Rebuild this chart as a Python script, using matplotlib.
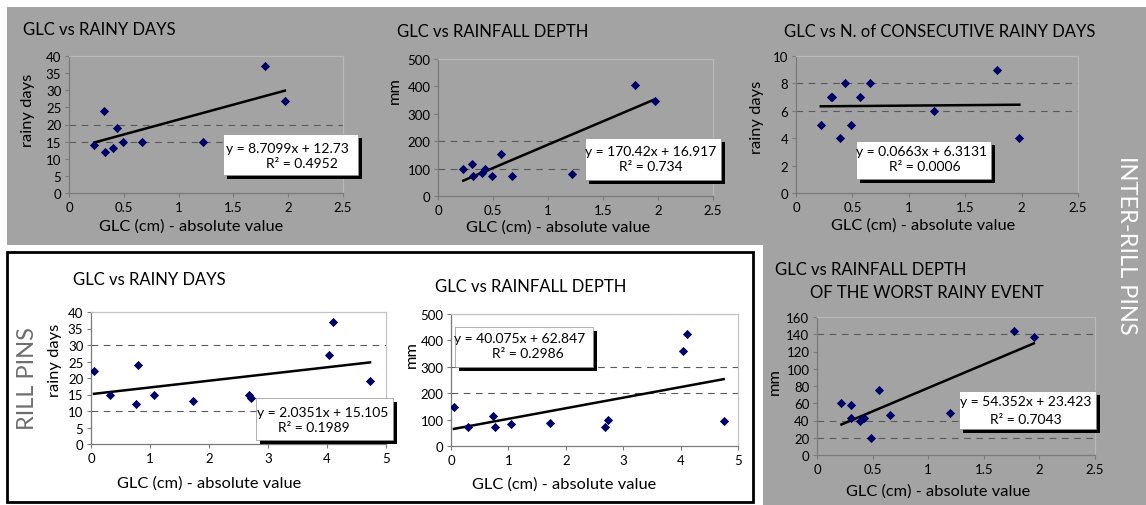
import matplotlib
matplotlib.use('Agg')
import matplotlib.pyplot as plt
from matplotlib.patches import Rectangle, Polygon
import numpy as np

plt.rcParams['font.family'] = ['Lato', 'DejaVu Sans']

# -------------------------
# Data
# -------------------------
# inter-rill pins
ir_days_x = [0.23, 0.32, 0.33, 0.40, 0.44, 0.49, 0.67, 1.22, 1.79, 1.97]
ir_days_y = [14, 24, 12, 13, 19, 15, 15, 15, 37, 27]

ir_depth_x = [0.23, 0.31, 0.32, 0.40, 0.43, 0.49, 0.57, 0.67, 1.22, 1.79, 1.97]
ir_depth_y = [97, 115, 73, 85, 97, 73, 152, 73, 80, 406, 345]

ir_consec_x = [0.22, 0.31, 0.32, 0.39, 0.43, 0.49, 0.57, 0.66, 1.22, 1.78, 1.98]
ir_consec_y = [5, 7, 7, 4, 8, 5, 7, 8, 6, 9, 4]

ir_worst_x = [0.22, 0.305, 0.31, 0.39, 0.425, 0.485, 0.56, 0.66, 1.20, 1.77, 1.95]
ir_worst_y = [60, 58, 43, 40, 43, 20, 75, 46, 49, 144, 137]

# rill pins
r_days_x = [0.05, 0.32, 0.80, 0.76, 1.07, 1.73, 2.68, 2.72, 4.04, 4.10, 4.73]
r_days_y = [22, 15, 24, 12, 15, 13, 15, 14, 27, 37, 19]

r_depth_x = [0.05, 0.30, 0.74, 0.76, 1.05, 1.73, 2.69, 2.73, 4.05, 4.11, 4.75]
r_depth_y = [149, 72, 114, 72, 85, 89, 72, 99, 361, 424, 95]

# trendlines (slope, intercept, R2) as printed on the chart
fit_ir_days = (8.7099, 12.73, '0.4952')
fit_ir_depth = (170.42, 16.917, '0.734')
fit_ir_consec = (0.0663, 6.3131, '0.0006')
fit_ir_worst = (54.352, 23.423, '0.7043')
fit_r_days = (2.0351, 15.105, '0.1989')
fit_r_depth = (40.075, 62.847, '0.2986')

eq_ir_days = 'y = 8.7099x + 12.73'
eq_ir_depth = 'y = 170.42x + 16.917'
eq_ir_consec = 'y = 0.0663x + 6.3131'
eq_ir_worst = 'y = 54.352x + 23.423'
eq_r_days = 'y = 2.0351x + 15.105'
eq_r_depth = 'y = 40.075x + 62.847'

xlab = 'GLC (cm) - absolute value'

# -------------------------
# Figure in pixel units
# -------------------------
W, H = 1146, 506
fig = plt.figure(figsize=(W / 100, H / 100), dpi=100, facecolor='white')
GRAY = '#a3a3a3'
TFS = 12     # titles
LFS = 11.8   # axis labels


def fx(x):
    return x / W


def fy(y):
    return 1 - y / H


def px_axes(x0, y0, x1, y1, bg):
    ax = fig.add_axes([fx(x0), fy(y1), (x1 - x0) / W, (y1 - y0) / H])
    ax.set_facecolor(bg)
    return ax


def ftext(x, y, s, **kw):
    fig.text(fx(x), fy(y), s, **kw)


# background shapes
bg = Polygon([(fx(7), fy(8)), (fx(W), fy(8)), (fx(W), fy(H)), (fx(763), fy(H)),
              (fx(763), fy(246)), (fx(7), fy(246))],
             closed=True, transform=fig.transFigure, facecolor=GRAY,
             edgecolor='none', zorder=-2)
fig.patches.append(bg)
box = Rectangle((fx(7), fy(503)), (753 - 7) / W, (503 - 253) / H,
                transform=fig.transFigure, facecolor='white',
                edgecolor='black', linewidth=2, zorder=-1)
fig.patches.append(box)


def scatter_panel(ax, xs, ys, fit, xmax, ymax, ystep, hlines, dark_bg):
    ax.scatter(xs, ys, marker='D', s=22, color='#000066', zorder=3,
               linewidths=0)
    a, b, _ = fit
    xl = np.array([min(xs), max(xs)])
    ax.plot(xl, a * xl + b, color='black', lw=1.8, zorder=2)
    for h in hlines:
        ax.axhline(h, color='#5a5a5a', lw=0.8, dashes=(6, 5), zorder=1)
    ax.set_xlim(0, xmax)
    ax.set_ylim(0, ymax)
    ax.set_yticks(np.arange(0, ymax + ystep / 2, ystep))
    if xmax == 5:
        ax.set_xticks([0, 1, 2, 3, 4, 5])
    else:
        ax.set_xticks([0, 0.5, 1, 1.5, 2, 2.5])
        ax.set_xticklabels(['0', '0.5', '1', '1.5', '2', '2.5'])
    ax.tick_params(direction='out', length=3, width=0.8, color='#7a7a7a',
                   labelsize=9.5, pad=2.5)
    for s in ['left', 'bottom']:
        ax.spines[s].set_color('#7a7a7a')
        ax.spines[s].set_linewidth(0.9)
    for s in ['top', 'right']:
        ax.spines[s].set_color('#b8b8b8' if dark_bg else '#c4c4c4')
        ax.spines[s].set_linewidth(0.9)


def eq_box(x0, y0, x1, y1, lines):
    sh = Rectangle((fx(x0 + 4), fy(y1 + 4)), (x1 - x0) / W, (y1 - y0) / H,
                   transform=fig.transFigure, facecolor='black',
                   edgecolor='none', zorder=4)
    wb = Rectangle((fx(x0), fy(y1)), (x1 - x0) / W, (y1 - y0) / H,
                   transform=fig.transFigure, facecolor='white',
                   edgecolor='#909090', linewidth=0.5, zorder=5)
    fig.patches.append(sh)
    fig.patches.append(wb)
    for (tx, ty, s) in lines:
        fig.text(fx(tx), fy(ty), s, ha='center', va='center', fontsize=10,
                 zorder=6)


# -------------------------
# Inter-rill: rainy days
# -------------------------
ax1 = px_axes(69, 57, 343, 194, 'none')
scatter_panel(ax1, ir_days_x, ir_days_y, fit_ir_days, 2.5, 40, 5, [15, 20], True)
ftext(23, 30, 'GLC vs RAINY DAYS', fontsize=TFS, va='center')
ftext(191, 227, xlab, fontsize=LFS, ha='center', va='center')
ftext(28, 110, 'rainy days', fontsize=LFS, rotation=90, ha='center', va='center')
eq_box(223, 135, 358, 176, [(287, 149, eq_ir_days),
                            (302, 164, 'R² = ' + fit_ir_days[2])])

# -------------------------
# Inter-rill: rainfall depth
# -------------------------
ax2 = px_axes(438, 60, 713, 197, 'none')
scatter_panel(ax2, ir_depth_x, ir_depth_y, fit_ir_depth, 2.5, 500, 100, [100, 200], True)
ftext(397, 32, 'GLC vs RAINFALL DEPTH', fontsize=TFS, va='center')
ftext(558, 228, xlab, fontsize=LFS, ha='center', va='center')
ftext(395, 90, 'mm', fontsize=LFS, rotation=90, ha='center', va='center')
eq_box(585, 139, 721, 181, [(651, 152, eq_ir_depth),
                            (651, 167, 'R² = ' + fit_ir_depth[2])])

# -------------------------
# Inter-rill: consecutive rainy days
# -------------------------
ax3 = px_axes(796, 57, 1078, 194, 'none')
scatter_panel(ax3, ir_consec_x, ir_consec_y, fit_ir_consec, 2.5, 10, 2, [6, 8], True)
ftext(940, 32, 'GLC vs N. of CONSECUTIVE RAINY DAYS', fontsize=TFS, ha='center', va='center')
ftext(923, 226, xlab, fontsize=LFS, ha='center', va='center')
ftext(757, 117, 'rainy days', fontsize=LFS, rotation=90, ha='center', va='center')
eq_box(856, 142, 991, 180, [(922, 152, eq_ir_consec),
                            (925, 167, 'R² = ' + fit_ir_consec[2])])

# -------------------------
# Inter-rill: worst rainy event
# -------------------------
ax4 = px_axes(817, 318, 1095, 456, 'none')
scatter_panel(ax4, ir_worst_x, ir_worst_y, fit_ir_worst, 2.5, 160, 20, [20, 40, 140], True)
ftext(775, 270, 'GLC vs RAINFALL DEPTH', fontsize=TFS, va='center')
ftext(810, 293, 'OF THE WORST RAINY EVENT', fontsize=TFS, va='center')
ftext(938, 492, xlab, fontsize=LFS, ha='center', va='center')
ftext(775, 382, 'mm', fontsize=LFS, rotation=90, ha='center', va='center')
eq_box(959, 392, 1096, 430, [(1026, 402, eq_ir_worst),
                             (1026, 420, 'R² = ' + fit_ir_worst[2])])

# -------------------------
# Rill: rainy days
# -------------------------
ax5 = px_axes(91, 313, 386, 445, 'white')
scatter_panel(ax5, r_days_x, r_days_y, fit_r_days, 5, 40, 5, [10, 30], False)
ftext(73, 280, 'GLC vs RAINY DAYS', fontsize=TFS, va='center')
ftext(209, 484, xlab, fontsize=LFS, ha='center', va='center')
ftext(55, 360, 'rainy days', fontsize=LFS, rotation=90, ha='center', va='center')
eq_box(256, 399, 393, 441, [(323, 413, eq_r_days),
                            (314, 428, 'R² = ' + fit_r_days[2])])

# -------------------------
# Rill: rainfall depth
# -------------------------
ax6 = px_axes(451, 315, 738, 447, 'white')
scatter_panel(ax6, r_depth_x, r_depth_y, fit_r_depth, 5, 500, 100, [200, 300], False)
ftext(435, 287, 'GLC vs RAINFALL DEPTH', fontsize=TFS, va='center')
ftext(564, 485, xlab, fontsize=LFS, ha='center', va='center')
ftext(412, 355, 'mm', fontsize=LFS, rotation=90, ha='center', va='center')
eq_box(455, 328, 593, 368, [(520, 339, eq_r_depth),
                            (528, 354, 'R² = ' + fit_r_depth[2])])

# -------------------------
# Side labels
# -------------------------
ftext(1126, 245, 'INTER-RILL PINS', fontsize=17, color='white', rotation=270,
      ha='center', va='center')
ftext(27, 378, 'RILL PINS', fontsize=17, color='#6e6e6e', rotation=90,
      ha='center', va='center')

fig.savefig('out.png', dpi=100, facecolor='white')
